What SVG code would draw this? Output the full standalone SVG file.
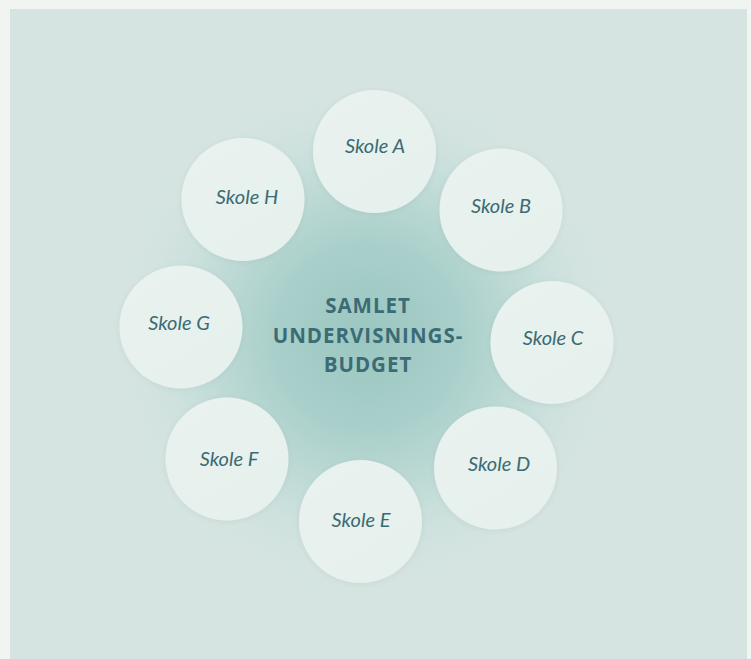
<svg xmlns="http://www.w3.org/2000/svg" width="751" height="659" viewBox="0 0 751 659">
  <defs>
    <radialGradient id="glow" cx="367" cy="337" r="260" gradientUnits="userSpaceOnUse">
      <stop offset="0" stop-color="#9bc6c0"/>
      <stop offset="0.35" stop-color="#a9cfca"/>
      <stop offset="0.7" stop-color="#c8dfdb"/>
      <stop offset="1" stop-color="#d5e4e1" stop-opacity="0"/>
    </radialGradient>
    <linearGradient id="disc" x1="0" y1="0" x2="0.6" y2="1">
      <stop offset="0" stop-color="#e9f2ef"/>
      <stop offset="1" stop-color="#e6f0ec"/>
    </linearGradient>
    <filter id="shadow" x="-20%" y="-20%" width="140%" height="140%">
      <feGaussianBlur in="SourceAlpha" stdDeviation="3"/>
      <feOffset dy="1"/>
      <feComponentTransfer><feFuncA type="linear" slope="0.06"/></feComponentTransfer>
      <feMerge><feMergeNode/><feMergeNode in="SourceGraphic"/></feMerge>
    </filter>
  </defs>
  <style>
    .disc { fill: url(#disc); filter: url(#shadow); }
    .lbl { font-family: "Lato", "Open Sans", sans-serif; font-style: italic; font-size: 20px; fill: #3a6b74; text-anchor: middle; }
    .hub { font-family: "Open Sans", "Lato", sans-serif; font-weight: 700; font-size: 20.5px; letter-spacing: 1px; fill: #3b6c76; text-anchor: middle; }
  </style>
  <rect x="0" y="0" width="751" height="659" fill="#f1f5f1"/>
  <rect x="10" y="9" width="737" height="650" fill="#d5e4e1"/>
  <circle cx="367" cy="337" r="260" fill="url(#glow)"/>

  <g id="connectors"></g>

  <g id="hub">
    <text class="hub" x="368" y="313">SAMLET</text>
    <text class="hub" x="368" y="343">UNDERVISNINGS-</text>
    <text class="hub" x="368" y="372">BUDGET</text>
  </g>

  <g id="skole-a"><circle class="disc" cx="374.5" cy="151.5" r="61.5"/><text class="lbl" x="375" y="153">Skole A</text></g>
  <g id="skole-b"><circle class="disc" cx="501" cy="210" r="61.5"/><text class="lbl" x="501" y="213">Skole B</text></g>
  <g id="skole-c"><circle class="disc" cx="552" cy="342.5" r="61.5"/><text class="lbl" x="553" y="345">Skole C</text></g>
  <g id="skole-d"><circle class="disc" cx="495.5" cy="468" r="61.5"/><text class="lbl" x="499" y="471">Skole D</text></g>
  <g id="skole-e"><circle class="disc" cx="360.5" cy="521.5" r="61.5"/><text class="lbl" x="361" y="527">Skole E</text></g>
  <g id="skole-f"><circle class="disc" cx="227" cy="459" r="61.5"/><text class="lbl" x="229" y="466">Skole F</text></g>
  <g id="skole-g"><circle class="disc" cx="181" cy="327" r="61.5"/><text class="lbl" x="179" y="330">Skole G</text></g>
  <g id="skole-h"><circle class="disc" cx="243" cy="199.5" r="61.5"/><text class="lbl" x="247" y="204">Skole H</text></g>
</svg>
